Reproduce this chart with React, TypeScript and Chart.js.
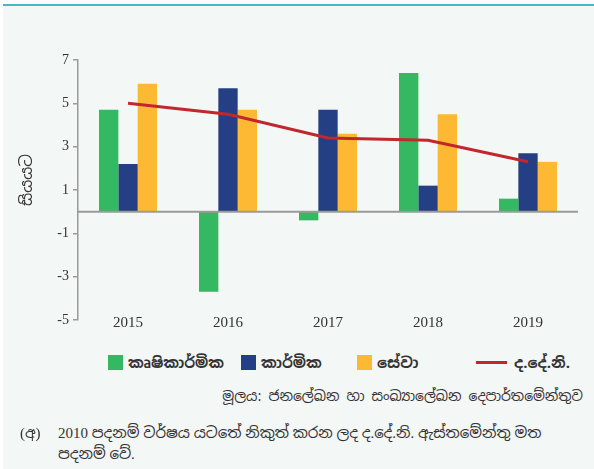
import React, { useEffect, useRef } from "react";
import { Chart, registerables } from "chart.js";

Chart.register(...registerables);

const years = ["2015", "2016", "2017", "2018", "2019"];
const agriculture = [4.7, -3.7, -0.4, 6.4, 0.6];
const industry = [2.2, 5.7, 4.7, 1.2, 2.7];
const services = [5.9, 4.7, 3.6, 4.5, 2.3];
const gdp = [5.0, 4.5, 3.4, 3.3, 2.3];

const legendLabels = ["කෘෂිකාර්මික", "කාර්මික", "සේවා", "ද.දේ.නි."];
const yTitle = "සියයට";
const sourceText = "මූලය: ජනලේඛන හා සංඛ්‍යාලේඛන දෙපාර්තමේන්තුව";
const noteMark = "(අ)";
const noteLine1 = "2010 පදනම් වර්ෂය යටතේ නිකුත් කරන ලද ද.දේ.නි. ඇස්තමේන්තු මත";
const noteLine2 = "පදනම් වේ.";

const GREEN = "#35b862";
const BLUE = "#243f83";
const ORANGE = "#fdb933";
const RED = "#c1272d";
const AXIS = "#9a9a9a";
const TEXT = "#333333";
const SIN_FONT = "'Noto Sans Sinhala', 'Noto Serif Sinhala', 'DejaVu Sans', sans-serif";
const SERIF = "'Liberation Serif', 'DejaVu Serif', serif";
const MIX_FONT = "'Liberation Serif', 'Noto Sans Sinhala', serif";

const zeroLineAndLabels = {
  id: "zeroLineAndLabels",
  afterDatasetsDraw(chart: any) {
    const { ctx, chartArea, scales } = chart;
    const y = scales.y.getPixelForValue(0);
    ctx.save();
    ctx.strokeStyle = AXIS;
    ctx.lineWidth = 2;
    ctx.beginPath();
    ctx.moveTo(chartArea.left, y);
    ctx.lineTo(chartArea.right, y);
    ctx.stroke();
    ctx.fillStyle = TEXT;
    ctx.font = "15px " + SERIF;
    ctx.textAlign = "center";
    ctx.textBaseline = "middle";
    const labels = chart.data.labels as string[];
    labels.forEach((lab, i) => {
      ctx.fillText(lab, scales.x.getPixelForTick(i), chartArea.bottom + 3);
    });
    ctx.restore();
  },
};

function ChartBox() {
  const ref = useRef<HTMLCanvasElement | null>(null);
  useEffect(() => {
    if (!ref.current) return;
    const chart = new Chart(ref.current, {
      type: "bar",
      data: {
        labels: years,
        datasets: [
          {
            type: "line",
            label: legendLabels[3],
            data: gdp,
            borderColor: RED,
            backgroundColor: RED,
            borderWidth: 3,
            pointRadius: 0,
            tension: 0,
            order: 0,
          } as any,
          { label: legendLabels[0], data: agriculture, backgroundColor: GREEN, order: 1 },
          { label: legendLabels[1], data: industry, backgroundColor: BLUE, order: 1 },
          { label: legendLabels[2], data: services, backgroundColor: ORANGE, order: 1 },
        ],
      },
      options: {
        animation: false,
        responsive: false,
        maintainAspectRatio: false,
        datasets: { bar: { categoryPercentage: 0.58, barPercentage: 1.0 } },
        layout: { padding: { top: 60, right: 16, bottom: 25, left: 0 } },
        plugins: { legend: { display: false }, tooltip: { enabled: false } },
        scales: {
          x: {
            grid: { display: false, drawTicks: false },
            border: { display: false },
            ticks: { display: false },
          },
          y: {
            min: -5,
            max: 7,
            afterFit(s: any) {
              s.width = 78;
            },
            ticks: { stepSize: 2, color: TEXT, font: { family: SERIF, size: 14 }, padding: 4 },
            grid: { drawOnChartArea: false, drawTicks: true, tickLength: 5, color: AXIS, lineWidth: 1.5 },
            border: { display: true, color: AXIS, width: 1.5 },
            title: { display: false },
          },
        },
      },
      plugins: [zeroLineAndLabels],
    });
    return () => chart.destroy();
  }, []);
  return <canvas ref={ref} width={594} height={345} style={{ position: "absolute", left: 0, top: 0, width: 594, height: 345 }} />;
}

export default function App() {
  const legendX = [108, 241, 357, 476];
  const legendColors = [GREEN, BLUE, ORANGE, RED];
  return (
    <div style={{ position: "fixed", left: 0, top: 0, width: 594, height: 469, background: "#ffffff", overflow: "hidden" }}>
      <div style={{ position: "absolute", left: 3, top: 4, right: 0, height: 2, background: "#45b9c5" }} />
      <div style={{ position: "absolute", left: 3, top: 6, right: 0, bottom: 0, background: "#f3f7f6" }} />
      <ChartBox />
      <div
        style={{
          position: "absolute",
          left: 27,
          top: 180,
          transform: "translate(-50%, -50%) rotate(-90deg)",
          fontFamily: SIN_FONT,
          fontSize: 16,
          color: TEXT,
          whiteSpace: "nowrap",
          lineHeight: "20px",
        }}
      >
        {yTitle}
      </div>
      {legendLabels.map((lab, i) => (
        <div key={i} style={{ position: "absolute", left: legendX[i], top: 352, height: 20, display: "flex", alignItems: "center", whiteSpace: "nowrap" }}>
          {i < 3 ? (
            <div style={{ width: 15, height: 15, background: legendColors[i], marginRight: 5 }} />
          ) : (
            <div style={{ width: 31, height: 3, background: legendColors[i], marginRight: 7 }} />
          )}
          <span style={{ fontFamily: SIN_FONT, fontSize: 15, fontWeight: 700, color: TEXT }}>{lab}</span>
        </div>
      ))}
      <div style={{ position: "absolute", right: 11, top: 387, fontFamily: SIN_FONT, fontSize: 14, color: TEXT, whiteSpace: "nowrap" }}>{sourceText}</div>
      <div style={{ position: "absolute", left: 20, top: 423, fontFamily: MIX_FONT, fontSize: 15, color: TEXT, whiteSpace: "nowrap" }}>{noteMark}</div>
      <div style={{ position: "absolute", left: 58, top: 423, fontFamily: MIX_FONT, fontSize: 15, color: TEXT, whiteSpace: "nowrap", lineHeight: "21px" }}>
        <div>{noteLine1}</div>
        <div>{noteLine2}</div>
      </div>
    </div>
  );
}
